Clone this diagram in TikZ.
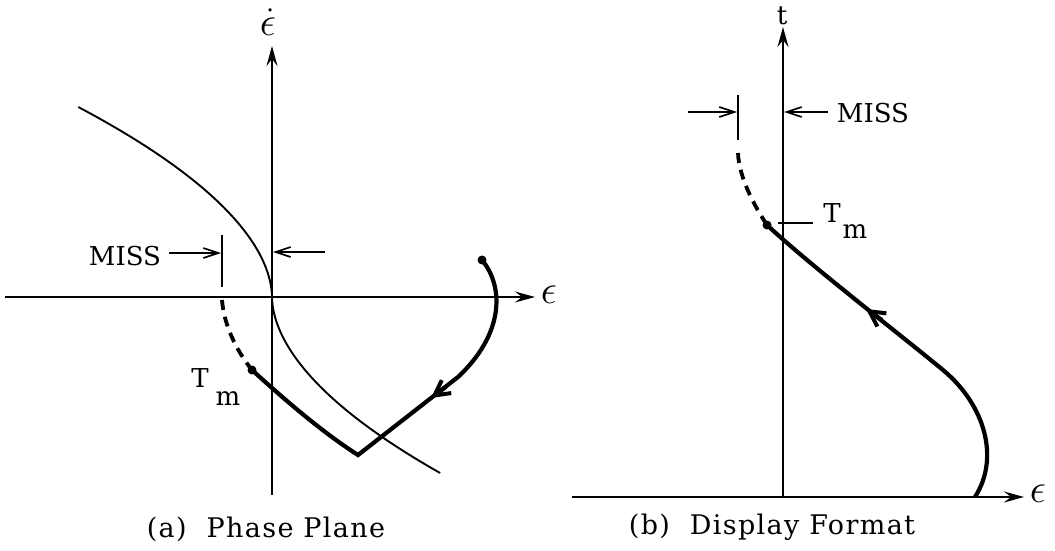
\RequirePackage{fix-cm}
\documentclass[tikz,border=0pt]{standalone}
\usepackage{fontspec}
\newfontfamily\lblfont{DejaVu Serif}
\newfontfamily\capfont{DejaVu Serif}[LetterSpace=5]
\usetikzlibrary{arrows.meta}
\begin{document}
\begin{tikzpicture}[x=1pt,y=-1pt,
  axisline/.style={line width=2pt, -{Stealth[length=20pt,width=11pt,inset=7pt]}},
  switchcurve/.style={line width=1.9pt},
  traj/.style={line width=4.2pt, line join=miter},
  dashtraj/.style={line width=3.8pt, dash pattern=on 10pt off 7pt},
  missarrow/.style={line width=1.7pt, -{Straight Barb[length=15pt,width=10pt]}},
  ticklne/.style={line width=1.7pt},
  headarrow/.style={line width=4pt, -{Straight Barb[length=15pt,width=16pt]}},
  lbl/.style={font=\lblfont\fontsize{26}{30}\selectfont, inner sep=0pt, anchor=base},
  mathlbl/.style={font=\fontsize{24}{28}\selectfont, inner sep=0pt, anchor=base},
  captext/.style={font=\capfont\fontsize{27}{30}\selectfont, inner sep=0pt, anchor=base},
  dotnode/.style={circle, fill, inner sep=0pt, minimum size=9pt}
]
\useasboundingbox (0,0) rectangle (1055,551);

% ---------------- (a) Phase Plane ----------------
\coordinate (Lbot) at (272,495);
\coordinate (Ltop) at (272,46);
\coordinate (Lleft) at (5,297);
\coordinate (Lright) at (535,297);
\draw[axisline] (Lbot) -- (Ltop);
\draw[axisline] (Lleft) -- (Lright);
\node[mathlbl] (Ledot) at (268,36) {\scalebox{1.7}{$\dot\epsilon$}};
\node[mathlbl] (Leps) at (549,303) {\scalebox{1.7}{$\epsilon$}};

% switching curve
\draw[switchcurve] plot[domain=-190:176, samples=81]
  ({272+sign(\x)*59.1*pow(abs(\x)/100,1.85)}, {297+\x});

% trajectory
\node[dotnode] (Ls) at (482,260) {};
\coordinate (Lc1) at (458,377);
\coordinate (Lcorner) at (358,455);
\node[dotnode] (Ltm) at (252,370) {};
\draw[traj] (Ls.center) .. controls (505,288) and (503,335) .. (Lc1)
  -- (Lcorner) .. controls (322,432) and (285,400) .. (Ltm.center);
\coordinate (LaA) at (446,387);
\coordinate (LaB) at (431,398);
\draw[headarrow] (LaA) -- (LaB);
\coordinate (Ldash) at (222,300);
\draw[dashtraj] (Ldash) .. controls (224,325) and (236,350) .. (Ltm.center);

% MISS
\node[lbl] (Lmiss) at (125,265) {MISS};
\coordinate (Ltk1) at (222,235);
\coordinate (Ltk2) at (222,287);
\draw[ticklne] (Ltk1) -- (Ltk2);
\coordinate (LmA) at (169,253);
\coordinate (LmB) at (221,253);
\draw[missarrow] (LmA) -- (LmB);
\coordinate (LmC) at (325,252);
\coordinate (LmD) at (273,252);
\draw[missarrow] (LmC) -- (LmD);
\node[lbl] (LT) at (200,387) {T};
\node[lbl] (Lm) at (228,405) {m};

\node[captext] (capa) at (266,537) {(a)\hspace{10pt} Phase Plane};

% ---------------- (b) Display Format ----------------
\coordinate (Rbot) at (783,497);
\coordinate (Rtop) at (783,27);
\coordinate (Rleft) at (572,497);
\coordinate (Rright) at (1024,497);
\draw[axisline] (Rbot) -- (Rtop);
\draw[axisline] (Rleft) -- (Rright);
\node[lbl] (Rt) at (782,25) {t};
\node[mathlbl] (Reps) at (1038,502) {\scalebox{1.7}{$\epsilon$}};

\node[dotnode] (Rtm) at (767,225) {};
\coordinate (Rs) at (975,497);
\coordinate (Rmid) at (943,370);
\draw[traj] (Rs) .. controls (1000,458) and (985,405) .. (Rmid)
  .. controls (897,332) and (811,266) .. (Rtm.center);
\coordinate (RaA) at (882,320);
\coordinate (RaB) at (866,309);
\draw[headarrow] (RaA) -- (RaB);
\coordinate (Rdash) at (738,153);
\draw[dashtraj] (Rdash) .. controls (739,178) and (755,207) .. (Rtm.center);

\coordinate (Rtk1) at (738,95);
\coordinate (Rtk2) at (738,140);
\draw[ticklne] (Rtk1) -- (Rtk2);
\coordinate (RmA) at (688,112);
\coordinate (RmB) at (737,112);
\draw[missarrow] (RmA) -- (RmB);
\coordinate (RmC) at (828,112);
\coordinate (RmD) at (784,112);
\draw[missarrow] (RmC) -- (RmD);
\node[lbl] (Rmiss) at (873,122) {MISS};

\coordinate (RtA) at (778,223);
\coordinate (RtB) at (813,223);
\draw[ticklne] (RtA) -- (RtB);
\node[lbl] (RT) at (832,222) {T};
\node[lbl] (Rm) at (855,238) {m};

\node[captext] (capb) at (772,534) {(b)\hspace{10pt} Display Format};
\end{tikzpicture}
\end{document}
